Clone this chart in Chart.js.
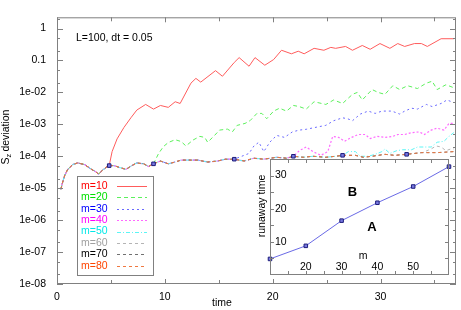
<!DOCTYPE html>
<html>
<head>
<meta charset="utf-8">
<script src="https://cdn.jsdelivr.net/npm/chart.js@4.4.0/dist/chart.umd.min.js"></script>
<style>
  html, body { margin: 0; padding: 0; background: #fff; }
  #wrap { position: relative; width: 461px; height: 310px; overflow: hidden; }
  #main { position: absolute; left: 0; top: 0; }
  #inset { position: absolute; left: 250px; top: 154px; }
</style>
</head>
<body>
<div id="wrap">
  <canvas id="main" width="461" height="310"></canvas>
  <canvas id="inset" width="206" height="126"></canvas>
</div>
<script>
// --- data ---
// common early part, followed by every m until it runs away
const baseT = [0.37, 0.46, 0.73, 1.0, 1.46, 1.92, 2.56, 3.2, 3.65, 3.84, 4.2, 4.66, 4.84, 5.3, 5.75, 6.39, 6.94, 7.4, 8.04, 8.49,
  8.95, 9.59, 10.32, 10.96, 11.51, 12.15, 13.06, 13.97, 14.89, 15.62, 16.44, 17.35, 18.26, 19.18, 20.37, 21.28, 21.92, 22.83, 23.74, 24.93,
  25.84, 26.48, 27.67, 28.4, 29.22, 30.41, 31.32, 32.42, 33.79, 35.25, 36.8];
const baseV = [9.3e-6, 1.3e-5, 2.6e-5, 3.9e-5, 5.5e-5, 6.2e-5, 5.5e-5, 3.9e-5, 3.2e-5, 2.75e-5, 3.6e-5, 4.8e-5, 5.1e-5, 5.1e-5, 4.5e-5, 3.9e-5, 5.1e-5, 6.2e-5, 5.8e-5, 4.8e-5,
  5.8e-5, 7.1e-5, 5.8e-5, 6.6e-5, 7.6e-5, 7.6e-5, 7.6e-5, 6.6e-5, 7.1e-5, 8.1e-5, 8.1e-5, 7.1e-5, 8.7e-5, 8.1e-5, 9.3e-5, 8.7e-5, 1.0e-4, 9.3e-5, 1.0e-4, 9.3e-5,
  1.0e-4, 1.07e-4, 1.07e-4, 9.3e-5, 1.0e-4, 1.15e-4, 1.07e-4, 1.15e-4, 1.3e-4, 1.3e-4, 1.4e-4];

const t10 = [4.84, 5.11, 5.57, 6.21, 6.85, 7.4, 8.22, 8.95, 9.59, 10.32, 10.96, 11.42, 12.42, 12.88, 13.33, 14.7, 15.34, 16.44, 16.89, 17.81,
  18.36, 19.27, 20.09, 20.82, 21.74, 22.37, 22.92, 23.84, 24.75, 25.39, 25.84, 26.76, 27.4, 28.31, 29.04, 29.95, 30.87, 31.6, 32.24, 33.15,
  33.79, 34.34, 35.62, 36.8];
const v10 = [5.1e-5, 1.4e-4, 3.5e-4, 8e-4, 1.6e-3, 2.8e-3, 4.2e-3, 3.0e-3, 3.9e-3, 3.4e-3, 5.1e-3, 4.5e-3, 0.0195, 0.0275, 0.021, 0.048, 0.032, 0.087, 0.123, 0.066,
  0.123, 0.071, 0.107, 0.209, 0.162, 0.195, 0.162, 0.24, 0.209, 0.257, 0.24, 0.275, 0.209, 0.295, 0.224, 0.339, 0.24, 0.339, 0.275, 0.339,
  0.339, 0.275, 0.48, 0.48];

const t20 = [8.95, 9.41, 9.86, 10.32, 10.96, 11.51, 11.96, 12.6, 13.24, 13.7, 13.97, 14.61, 15.07, 15.8, 16.26, 16.71, 17.44, 17.9, 18.54, 19.0,
  19.45, 20.09, 20.64, 21.28, 21.92, 22.47, 23.11, 23.84, 24.93, 25.66, 26.48, 27.4, 27.85, 28.31, 29.22, 29.77, 30.41, 31.14, 31.78, 32.51,
  33.42, 34.25, 34.79, 35.25, 36.07, 36.8];
const v20 = [5.8e-5, 1.2e-4, 2.0e-4, 2.7e-4, 3.3e-4, 2.9e-4, 2.1e-4, 3.2e-4, 4.2e-4, 3.9e-4, 2.75e-4, 4.5e-4, 6.6e-4, 7.1e-4, 5.8e-4, 9.3e-4, 1.07e-3, 1.3e-3, 2.2e-3, 2.2e-3,
  1.5e-3, 2.6e-3, 3.2e-3, 2.6e-3, 3.9e-3, 3.6e-3, 3.0e-3, 5.1e-3, 4.2e-3, 5.8e-3, 4.5e-3, 8.7e-3, 0.01, 5.8e-3, 0.0123, 0.01, 8.7e-3, 0.0162, 0.0123, 0.0162,
  0.0132, 0.0195, 0.0224, 0.0123, 0.0174, 0.014];

const t30 = [16.44, 17.81, 18.26, 18.72, 19.18, 19.73, 20.37, 21.1, 21.83, 22.47, 23.11, 24.02, 24.93, 25.66, 26.48, 26.94, 27.4, 28.13, 28.86, 29.5,
  30.14, 31.05, 31.78, 32.24, 32.88, 33.42, 34.25, 34.79, 35.62, 36.16, 36.8];
const v30 = [8.1e-5, 1.23e-4, 2.1e-4, 2.75e-4, 1.4e-4, 2.75e-4, 4.5e-4, 3.9e-4, 5.8e-4, 6.6e-4, 7.0e-4, 8.1e-4, 9.3e-4, 1.3e-3, 1.6e-3, 1.5e-3, 1.3e-3, 2.1e-3, 2.6e-3, 2.2e-3,
  2.6e-3, 2.6e-3, 2.1e-3, 2.6e-3, 3.2e-3, 3.0e-3, 4.2e-3, 3.6e-3, 4.5e-3, 5.8e-3, 4.8e-3];

const t40 = [21.92, 22.47, 23.11, 23.74, 24.47, 25.11, 25.57, 26.12, 26.67, 27.31, 27.95, 28.58, 29.04, 29.68, 30.41, 31.14, 31.6, 32.24, 32.88, 33.61,
  34.06, 34.7, 35.25, 35.89, 36.35, 36.8];
const v40 = [1.0e-4, 1.5e-4, 1.95e-4, 1.4e-4, 1.07e-4, 1.4e-4, 4.2e-4, 3.9e-4, 2.95e-4, 3.9e-4, 4.8e-4, 4.8e-4, 3.6e-4, 4.2e-4, 3.9e-4, 4.2e-4, 4.8e-4, 4.8e-4, 5.5e-4, 5.8e-4,
  4.8e-4, 6.6e-4, 7.6e-4, 6.6e-4, 1.07e-3, 1.07e-3];

const t50 = [26.48, 27.03, 27.67, 28.13, 28.86, 29.5, 30.14, 30.41, 30.87, 31.51, 32.05, 32.88, 33.42, 34.06, 34.7, 35.25, 35.89, 36.35, 36.8];
const v50 = [1.07e-4, 1.4e-4, 1.4e-4, 1.0e-4, 1.0e-4, 1.15e-4, 1.4e-4, 1.7e-4, 1.23e-4, 1.5e-4, 1.6e-4, 1.6e-4, 1.95e-4, 1.95e-4, 1.95e-4, 2.75e-4, 2.95e-4, 4.2e-4, 5.5e-4];

const t60 = [32.42, 33.15, 33.88, 34.7, 35.16, 35.62, 36.07, 36.53, 36.8];
const v60 = [1.15e-4, 1.23e-4, 1.3e-4, 1.7e-4, 2.1e-4, 1.95e-4, 1.5e-4, 1.7e-4, 1.7e-4];

const seriesNames = ['m=10', 'm=20', 'm=30', 'm=40', 'm=50', 'm=60', 'm=70', 'm=80'];
const textColors = ['#ff0000', '#00e000', '#0000ff', '#ff00ff', '#00e8e8', '#a0a0a0', '#000000', '#ff4500'];
const lineColors = ['#ff5c5c', '#5cf05c', '#6a6aff', '#ff6aff', '#5cf5f5', '#b4b4b4', '#707070', '#f07840'];
const seriesDash = [[], [4, 3], [2, 3], [2, 2], [4, 2, 1, 2], [3, 3], [3, 3], [3, 3]];
const ownT = [t10, t20, t30, t40, t50, t60, [], []];
const ownV = [v10, v20, v30, v40, v50, v60, [], []];

// inset: runaway time vs m
const runawayM = [10, 20, 30, 40, 50, 60];
const runawayT = [4.85, 8.8, 16.4, 21.8, 26.7, 32.7];

const yTickValues = [1e-8, 1e-7, 1e-6, 1e-5, 1e-4, 1e-3, 1e-2, 0.1, 1];
const yTickLabels = ['1e-08', '1e-07', '1e-06', '1e-05', '1e-04', '1e-03', '1e-02', '0.1', '1'];
const xTickValues = [0, 10, 20, 30];

const FONT = '"Liberation Sans", Arial, sans-serif';
const FRAME = '#808080';

function compose(tt, vv) {
  const start = tt.length ? tt[0] : Infinity;
  const pts = [];
  baseT.forEach((t, i) => { if (t < start) pts.push({ x: t, y: baseV[i] }); });
  tt.forEach((t, i) => pts.push({ x: t, y: vv[i] }));
  return pts;
}

const datasets = seriesNames.map((name, i) => ({
  label: name,
  data: compose(ownT[i], ownV[i]),
  borderColor: lineColors[i],
  borderWidth: i === 3 ? 1.2 : 1,
  borderDash: seriesDash[i],
  pointRadius: 0,
  tension: 0,
  fill: false,
  order: 8 - i
}));

// squares where each m leaves the common curve
datasets.push({
  label: 'runaway',
  data: ownT.filter(a => a.length).map((a, i) => ({ x: a[0], y: ownV[i][0] })),
  showLine: false,
  pointStyle: 'rect',
  pointRadius: 2.5,
  borderWidth: 1,
  borderColor: '#1c1c7a',
  backgroundColor: '#7878e0',
  order: 0
});

// --- frame, inward ticks, legend and labels for the main plot ---
const mainDecor = {
  id: 'mainDecor',
  afterDraw(chart) {
    const { ctx, chartArea: a, scales: { x, y } } = chart;
    ctx.save();
    ctx.strokeStyle = FRAME;
    ctx.lineWidth = 1;
    ctx.strokeRect(a.left + 0.5, a.top + 0.5, a.right - a.left - 1, a.bottom - a.top - 1);

    ctx.beginPath();
    for (let v = 0; v <= 37; v += 5) {
      const px = Math.round(x.getPixelForValue(v)) + 0.5;
      const len = v % 10 === 0 ? 5 : 4;
      ctx.moveTo(px, a.bottom); ctx.lineTo(px, a.bottom - len);
      ctx.moveTo(px, a.top); ctx.lineTo(px, a.top + len);
    }
    for (let e = -8; e <= 0; e++) {
      [1, 2, 5].forEach(m => {
        const v = m * Math.pow(10, e);
        if (v > y.max) return;
        const py = Math.round(y.getPixelForValue(v)) + 0.5;
        const len = m === 1 ? 6 : 3;
        ctx.moveTo(a.left, py); ctx.lineTo(a.left + len, py);
        ctx.moveTo(a.right, py); ctx.lineTo(a.right - len, py);
      });
    }
    ctx.stroke();

    ctx.fillStyle = '#000';
    ctx.font = '10.5px ' + FONT;
    ctx.textBaseline = 'middle';
    ctx.textAlign = 'left';
    ctx.fillText('L=100, dt = 0.05', a.left + 19, a.top + 21);

    // x title
    ctx.textAlign = 'center';
    ctx.fillText('time', 222, 303);

    // y title with subscript
    ctx.save();
    ctx.translate(6, 137);
    ctx.rotate(-Math.PI / 2);
    ctx.textAlign = 'left';
    const full = 'S  deviation';
    const w = ctx.measureText(full).width;
    ctx.fillText('S', -w / 2, 0);
    const sw = ctx.measureText('S').width;
    ctx.font = '7.5px ' + FONT;
    ctx.fillText('z', -w / 2 + sw, 3);
    ctx.font = '10.5px ' + FONT;
    ctx.fillText('deviation', -w / 2 + ctx.measureText('S  ').width, 0);
    ctx.restore();

    // legend box
    const lx = 77, ly = 176, lw = 76, lh = 99;
    ctx.fillStyle = '#fff';
    ctx.fillRect(lx, ly, lw, lh);
    ctx.strokeStyle = FRAME;
    ctx.setLineDash([]);
    ctx.strokeRect(lx + 0.5, ly + 0.5, lw, lh);
    seriesNames.forEach((name, i) => {
      const cy = 186 + i * 11.4;
      ctx.fillStyle = textColors[i];
      ctx.textAlign = 'left';
      ctx.fillText(name, 81, cy);
      ctx.strokeStyle = lineColors[i];
      ctx.lineWidth = i === 3 ? 1.2 : 1;
      ctx.setLineDash(seriesDash[i]);
      ctx.beginPath();
      ctx.moveTo(117, Math.round(cy) + 0.5);
      ctx.lineTo(147, Math.round(cy) + 0.5);
      ctx.stroke();
    });
    ctx.restore();
  }
};

new Chart(document.getElementById('main').getContext('2d'), {
  type: 'line',
  data: { datasets },
  options: {
    responsive: false,
    animation: false,
    layout: { padding: 0 },
    plugins: { legend: { display: false }, tooltip: { enabled: false } },
    scales: {
      x: {
        type: 'linear', min: 0, max: 37,
        afterFit: s => { s.height = 26; },
        afterBuildTicks: s => { s.ticks = xTickValues.map(v => ({ value: v })); },
        grid: { display: false, drawTicks: false },
        border: { display: false },
        ticks: { color: '#000', padding: 7, maxRotation: 0, font: { family: FONT, size: 10.5 } }
      },
      y: {
        type: 'logarithmic', min: 1e-8, max: 2.25,
        afterFit: s => { s.width = 57; },
        afterBuildTicks: s => { s.ticks = yTickValues.map(v => ({ value: v })); },
        grid: { display: false, drawTicks: false },
        border: { display: false },
        ticks: {
          color: '#000', padding: 11, font: { family: FONT, size: 10.5 },
          callback: (v, i) => yTickLabels[i]
        }
      }
    }
  },
  plugins: [mainDecor]
});

// --- inset ---
const insetDecor = {
  id: 'insetDecor',
  beforeDatasetsDraw(chart) {
    const { ctx, chartArea: a } = chart;
    ctx.save();
    ctx.fillStyle = '#fff';
    ctx.fillRect(a.left, a.top, a.right - a.left, a.bottom - a.top);
    ctx.restore();
  },
  afterDraw(chart) {
    const { ctx, chartArea: a, scales: { x, y } } = chart;
    ctx.save();
    ctx.strokeStyle = FRAME;
    ctx.lineWidth = 1;
    ctx.strokeRect(a.left + 0.5, a.top + 0.5, a.right - a.left - 1, a.bottom - a.top - 1);
    ctx.beginPath();
    for (let m = 15; m <= 55; m += 5) {
      const px = Math.round(x.getPixelForValue(m)) + 0.5;
      ctx.moveTo(px, a.top); ctx.lineTo(px, a.top + 4);
      ctx.moveTo(px, a.bottom); ctx.lineTo(px, a.bottom - 4);
    }
    for (let v = 5; v <= 30; v += 5) {
      const py = Math.round(y.getPixelForValue(v)) + 0.5;
      ctx.moveTo(a.left, py); ctx.lineTo(a.left + 4, py);
      ctx.moveTo(a.right, py); ctx.lineTo(a.right - 4, py);
    }
    ctx.stroke();

    ctx.fillStyle = '#000';
    ctx.font = '10.5px ' + FONT;
    ctx.textBaseline = 'middle';
    ctx.textAlign = 'left';
    [10, 20, 30].forEach(v => ctx.fillText(String(v), a.left + 5, y.getPixelForValue(v)));
    ctx.textAlign = 'center';
    [20, 30, 40, 50].forEach(m => ctx.fillText(String(m), x.getPixelForValue(m), a.bottom - 8));
    ctx.fillText('m', x.getPixelForValue(36), a.bottom - 19);

    ctx.font = 'bold 13px ' + FONT;
    ctx.fillText('B', x.getPixelForValue(33), y.getPixelForValue(24.8));
    ctx.fillText('A', x.getPixelForValue(38.5), y.getPixelForValue(14.4));

    ctx.font = '10.5px ' + FONT;
    ctx.save();
    ctx.translate(12, 52);
    ctx.rotate(-Math.PI / 2);
    ctx.fillText('runaway time', 0, 0);
    ctx.restore();
    ctx.restore();
  }
};

new Chart(document.getElementById('inset').getContext('2d'), {
  type: 'line',
  data: {
    datasets: [{
      data: runawayM.map((m, i) => ({ x: m, y: runawayT[i] })),
      borderColor: '#6a6ae6',
      borderWidth: 1,
      pointStyle: 'rect',
      pointRadius: 2.5,
      pointBorderColor: '#1c1c7a',
      pointBackgroundColor: '#7878e0',
      tension: 0,
      clip: false
    }]
  },
  options: {
    responsive: false,
    animation: false,
    layout: { padding: { left: 20, top: 4, right: 7, bottom: 5 } },
    plugins: { legend: { display: false }, tooltip: { enabled: false } },
    scales: {
      x: { type: 'linear', min: 10, max: 60, display: false },
      y: { type: 'linear', min: 0, max: 35, display: false }
    }
  },
  plugins: [insetDecor]
});
</script>
</body>
</html>
